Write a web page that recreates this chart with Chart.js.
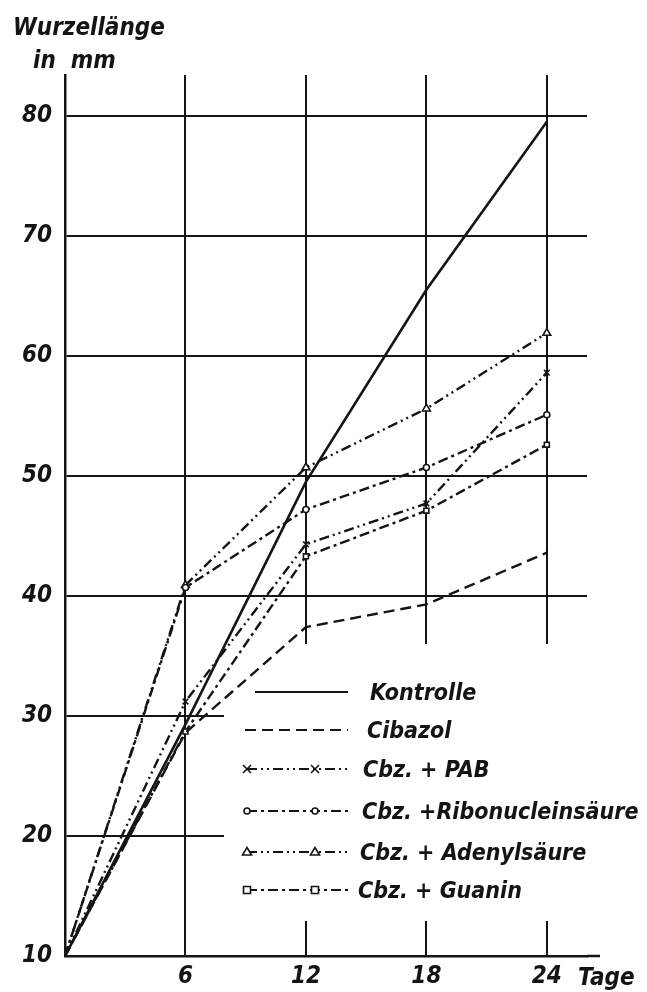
<!DOCTYPE html>
<html>
<head>
<meta charset="utf-8">
<script src="https://cdn.jsdelivr.net/npm/chart.js@4"></script>
<style>
body { margin: 0; background: #fff; }
#wrap { width: 647px; height: 992px; }
</style>
</head>
<body>
<div id="wrap"><canvas id="chart"></canvas></div>
<script>
let days = [0, 6, 12, 18, 24];
let kontrolle = [10, 29.3, 49.5, 65.5, 79.5];
let cibazol = [10, 28.6, 37.4, 39.3, 43.6];
let pab = [10, 31.2, 44.3, 47.7, 58.6];
let ribo = [10, 40.7, 47.2, 50.7, 55.1];
let adenyl = [10, 40.9, 50.7, 55.6, 61.9];
let guanin = [10, 28.7, 43.3, 47.1, 52.6];

let xTicks = [6, 12, 18, 24];
let yTicks = [10, 20, 30, 40, 50, 60, 70, 80];
let labels = ['Kontrolle', 'Cibazol', 'Cbz. + PAB', 'Cbz. +Ribonucleinsäure', 'Cbz. + Adenylsäure', 'Cbz. + Guanin'];

let ink = '#141414';
let font = "'DejaVu Sans Condensed', 'DejaVu Sans', sans-serif";

function points(values) {
	return days.map((d, i) => ({x: d, y: values[i]}));
}

let dashes = [[], [11, 6], [10, 4, 2, 4, 2, 4], [10, 4, 3, 4], [10, 4, 2, 4, 2, 4], [10, 4, 3, 4]];
let markers = [null, null, 'crossRot', 'circle', 'triangle', 'rect'];
let sizes = [0, 0, 4, 3, 4.5, 3.5];
let valuesList = [kontrolle, cibazol, pab, ribo, adenyl, guanin];

function series(i) {
	let r = sizes[i];
	return {
		label: labels[i],
		data: points(valuesList[i]),
		borderColor: ink,
		borderWidth: i === 0 ? 2.6 : 2.4,
		borderDash: dashes[i],
		tension: 0,
		fill: false,
		pointStyle: markers[i] || 'circle',
		pointRadius: [0, r, r, r, r],
		pointBorderWidth: 1.6,
		pointBorderColor: ink,
		pointBackgroundColor: '#fff'
	};
}

function drawMarker(ctx, style, x, y) {
	ctx.save();
	ctx.setLineDash([]);
	ctx.lineWidth = 1.6;
	ctx.fillStyle = '#fff';
	ctx.beginPath();
	if (style === 'crossRot') {
		ctx.moveTo(x - 4, y - 4); ctx.lineTo(x + 4, y + 4);
		ctx.moveTo(x + 4, y - 4); ctx.lineTo(x - 4, y + 4);
		ctx.stroke();
	} else if (style === 'circle') {
		ctx.arc(x, y, 3, 0, Math.PI * 2);
		ctx.fill(); ctx.stroke();
	} else if (style === 'triangle') {
		ctx.moveTo(x, y - 4.5); ctx.lineTo(x + 4.5, y + 3); ctx.lineTo(x - 4.5, y + 3); ctx.closePath();
		ctx.fill(); ctx.stroke();
	} else if (style === 'rect') {
		ctx.rect(x - 3.5, y - 3.5, 7, 7);
		ctx.fill(); ctx.stroke();
	}
	ctx.restore();
}

let rows = [692, 730, 769, 811, 852, 890];
let textX = [370, 367, 363, 362, 360, 358];

let decor = {
	id: 'decor',
	beforeDatasetsDraw(chart) {
		let ctx = chart.ctx;
		ctx.save();
		// blank area behind the legend
		ctx.fillStyle = '#fff';
		ctx.fillRect(224, 644, 380, 277);
		ctx.restore();
	},
	afterDraw(chart) {
		let ctx = chart.ctx;
		let area = chart.chartArea;
		ctx.save();
		ctx.fillStyle = ink;
		ctx.strokeStyle = ink;
		ctx.font = 'italic bold 24px ' + font;
		ctx.textBaseline = 'alphabetic';
		ctx.fillText('Wurzellänge', 13, 35);
		ctx.fillText('in  mm', 33, 68);
		ctx.fillText('Tage', 578, 985);

		// axis runs a bit past the last grid line
		ctx.lineWidth = 2.5;
		ctx.beginPath();
		ctx.moveTo(area.right, area.bottom);
		ctx.lineTo(area.right + 13, area.bottom);
		ctx.stroke();

		// legend
		ctx.font = 'italic bold 23px ' + font;
		rows.forEach((y, i) => {
			ctx.save();
			ctx.lineWidth = 2.2;
			ctx.setLineDash(dashes[i]);
			ctx.beginPath();
			ctx.moveTo(i === 0 ? 255 : (i === 1 ? 245 : 247), y);
			ctx.lineTo(348, y);
			ctx.stroke();
			ctx.restore();
			if (markers[i]) {
				drawMarker(ctx, markers[i], 247, y);
				drawMarker(ctx, markers[i], 315, y);
			}
			ctx.fillText(labels[i], textX[i], y + 8);
		});
		ctx.restore();
	}
};

new Chart(document.getElementById('chart'), {
	type: 'line',
	data: {
		datasets: valuesList.map((v, i) => series(i))
	},
	options: {
		responsive: true,
		maintainAspectRatio: false,
		animation: false,
		layout: {padding: {top: 75, right: 60, left: 0, bottom: 0}},
		plugins: {
			legend: {display: false},
			tooltip: {enabled: false}
		},
		scales: {
			x: {
				type: 'linear',
				min: 0,
				max: 26,
				afterBuildTicks: s => { s.ticks = xTicks.map(v => ({value: v})); },
				afterFit: s => { s.height = 36; },
				grid: {color: ink, lineWidth: 2, drawTicks: false},
				border: {color: ink, width: 2.5},
				ticks: {
					color: ink,
					padding: 6,
					maxRotation: 0,
					font: {family: font, size: 24, weight: 'bold', style: 'italic'}
				}
			},
			y: {
				min: 10,
				max: 83.4,
				afterBuildTicks: s => { s.ticks = yTicks.map(v => ({value: v})); },
				afterFit: s => { s.width = 65; },
				grid: {color: ink, lineWidth: 2, drawTicks: false},
				border: {color: ink, width: 2.5},
				ticks: {
					color: ink,
					padding: 13,
					font: {family: font, size: 24, weight: 'bold', style: 'italic'}
				}
			}
		}
	},
	plugins: [decor]
});
</script>
</body>
</html>
